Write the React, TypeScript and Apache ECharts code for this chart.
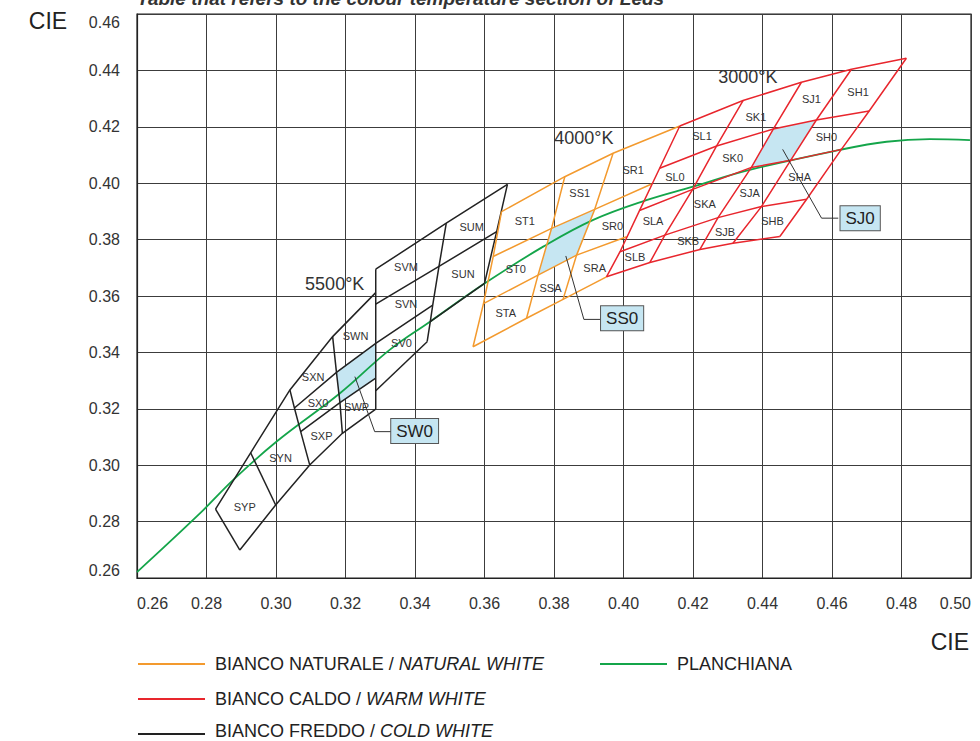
import React, { useEffect, useRef } from "react";
import * as echarts from "echarts";

// ---------- DATA (CIE x, y) ----------
const X_MIN = 0.26;
const X_MAX = 0.5;
const Y_MIN = 0.26;
const Y_MAX = 0.46;
const STEP = 0.02;

const TITLE = "Table that refers to the colour temperature section of Leds";

// Planckian locus
const planckian: number[][] = [
  [0.26, 0.2621], [0.2781, 0.2829], [0.2877, 0.2948], [0.3001, 0.3083],
  [0.3184, 0.3255], [0.3327, 0.3409], [0.3443, 0.3509], [0.3601, 0.3645],
  [0.3769, 0.3775], [0.3913, 0.387], [0.4066, 0.394], [0.42, 0.3988],
  [0.4363, 0.4047], [0.4622, 0.4118], [0.4757, 0.4147], [0.4881, 0.4156],
  [0.4997, 0.4153],
];

// BIANCO FREDDO / COLD WHITE bin boundaries
const coldLines: number[][][] = [
  [[0.2826, 0.2844], [0.2927, 0.3044], [0.304, 0.3267], [0.3163, 0.3456], [0.3287, 0.3612]],
  [[0.2896, 0.2699], [0.2999, 0.2859], [0.3097, 0.3001], [0.3191, 0.3113], [0.3287, 0.3199]],
  [[0.2826, 0.2844], [0.2896, 0.2699]],
  [[0.2927, 0.3044], [0.2999, 0.2859]],
  [[0.304, 0.3267], [0.3053, 0.3203], [0.3071, 0.3119], [0.3097, 0.3001]],
  [[0.3163, 0.3456], [0.3174, 0.3329], [0.3184, 0.3222], [0.3191, 0.3113]],
  [[0.3053, 0.3203], [0.3174, 0.3329], [0.3287, 0.3432], [0.3451, 0.3568]],
  [[0.3071, 0.3119], [0.3184, 0.3222], [0.3287, 0.3309]],
  [[0.3287, 0.3695], [0.3287, 0.3199]],
  [[0.3287, 0.3695], [0.349, 0.3858], [0.3666, 0.3996]],
  [[0.3287, 0.3571], [0.3469, 0.3705], [0.3635, 0.3828]],
  [[0.3287, 0.3264], [0.3435, 0.3438]],
  [[0.3444, 0.3509], [0.36, 0.3645]],
  [[0.349, 0.3858], [0.3469, 0.3705], [0.3451, 0.3568], [0.3444, 0.3509], [0.3435, 0.3438]],
  [[0.3666, 0.3996], [0.3635, 0.3828], [0.36, 0.3645]],
];

// BIANCO NATURALE / NATURAL WHITE bin boundaries
const naturalLines: number[][][] = [
  [[0.3649, 0.3899], [0.3831, 0.4023], [0.397, 0.4106], [0.4162, 0.4203]],
  [[0.3625, 0.374], [0.3793, 0.384], [0.3917, 0.3907], [0.4081, 0.3997]],
  [[0.3597, 0.3573], [0.3754, 0.3674], [0.3865, 0.3745], [0.4009, 0.381]],
  [[0.3567, 0.342], [0.3721, 0.3521], [0.3826, 0.3588], [0.3951, 0.3668]],
  [[0.3649, 0.3899], [0.3625, 0.374], [0.3597, 0.3573], [0.3567, 0.342]],
  [[0.3831, 0.4023], [0.3793, 0.384], [0.3754, 0.3674], [0.3721, 0.3521]],
  [[0.397, 0.4106], [0.3917, 0.3907], [0.3865, 0.3745], [0.3826, 0.3588]],
];

// BIANCO CALDO / WARM WHITE grid nodes (rows from top, columns from left)
const warmRows: number[][][] = [
  [[0.4162, 0.4203], [0.4344, 0.4293], [0.4512, 0.4358], [0.4656, 0.4404], [0.4814, 0.4443]],
  [[0.4104, 0.4053], [0.4268, 0.4132], [0.4431, 0.4192], [0.4555, 0.4224], [0.4707, 0.4256]],
  [[0.4046, 0.3903], [0.4199, 0.3978], [0.4368, 0.4056], [0.4481, 0.4081], [0.4627, 0.412]],
  [[0.399, 0.3757], [0.4119, 0.3816], [0.4272, 0.3878], [0.4397, 0.3917], [0.4527, 0.3943]],
  [[0.3951, 0.3668], [0.4076, 0.3719], [0.422, 0.3765], [0.4315, 0.3787], [0.445, 0.3811]],
];

// highlighted bins
const highlightNames = ["SW0", "SS0", "SJ0"];
const highlightCells: number[][][] = [
  [[0.3174, 0.3329], [0.3287, 0.3432], [0.3287, 0.3309], [0.3184, 0.3222]],
  [[0.3793, 0.384], [0.3917, 0.3907], [0.3865, 0.3745], [0.3754, 0.3674]],
  [[0.4431, 0.4192], [0.4555, 0.4224], [0.4481, 0.4081], [0.4368, 0.4056]],
];
const calloutLeaders: number[][][] = [
  [[0.3227, 0.3314], [0.3284, 0.3119], [0.3335, 0.3119]],
  [[0.3834, 0.3742], [0.3886, 0.3517], [0.3934, 0.3517]],
  [[0.4458, 0.412], [0.457, 0.3876], [0.4618, 0.3876]],
];
const calloutBoxes: number[][] = [
  [0.3399, 0.3121],
  [0.3996, 0.3521],
  [0.4681, 0.3876],
];

// bin names
const binNames = [
  "SYP", "SYN", "SXN", "SX0", "SXP", "SWN", "SWP", "SVM", "SVN", "SV0", "SUM", "SUN",
  "ST1", "ST0", "STA", "SS1", "SSA", "SR1", "SR0", "SRA",
  "SL1", "SL0", "SLA", "SLB", "SK1", "SK0", "SKA", "SKB", "SJ1", "SJA", "SJB",
  "SH1", "SH0", "SHA", "SHB",
];
const binLabelPos: number[][] = [
  [0.291, 0.2853], [0.3013, 0.3024], [0.3107, 0.3312], [0.3121, 0.322], [0.3131, 0.3104],
  [0.3229, 0.3459], [0.3232, 0.3205], [0.3374, 0.3704], [0.3374, 0.3572], [0.3361, 0.3434],
  [0.3563, 0.3846], [0.3538, 0.3678],
  [0.3716, 0.3867], [0.369, 0.3696], [0.3661, 0.3539], [0.3874, 0.3966], [0.379, 0.3627],
  [0.4028, 0.4047], [0.3968, 0.3848], [0.3917, 0.3698],
  [0.4226, 0.4167], [0.4148, 0.4021], [0.4085, 0.3867], [0.4033, 0.3737],
  [0.4381, 0.4236], [0.4314, 0.4088], [0.4234, 0.3926], [0.4186, 0.3796],
  [0.4541, 0.4298], [0.4363, 0.3964], [0.4292, 0.3826],
  [0.4675, 0.4325], [0.4584, 0.4163], [0.4507, 0.4023], [0.4429, 0.3867],
];

const tempNames = ["5500°K", "4000°K", "3000°K"];
const tempPos: number[][] = [
  [0.3169, 0.3643],
  [0.3886, 0.416],
  [0.4358, 0.4377],
];

const legendItems = [
  { plain: "BIANCO NATURALE / ", italic: "NATURAL WHITE", key: "natural" },
  { plain: "BIANCO CALDO / ", italic: "WARM WHITE", key: "warm" },
  { plain: "BIANCO FREDDO / ", italic: "COLD WHITE", key: "cold" },
  { plain: "PLANCHIANA", italic: "", key: "planck" },
];

// ---------- STYLE ----------
const ORANGE = "#f39a2e";
const RED = "#e8262d";
const BLACK = "#222222";
const GREEN = "#14a54a";
const BLUE_FILL = "#c6e6f2";
const FONT = "Arial, 'Liberation Sans', Helvetica, sans-serif";
const COLORS: Record<string, string> = { natural: ORANGE, warm: RED, cold: BLACK, planck: GREEN };
const CLEAR = "rgba(0,0,0,0)";

function warmLines(): number[][][] {
  const out: number[][][] = [];
  warmRows.forEach((r) => out.push(r));
  for (let c = 0; c < warmRows[0].length; c++) {
    out.push(warmRows.map((r) => r[c]));
  }
  return out;
}

export default function App() {
  const ref = useRef<HTMLDivElement>(null);

  useEffect(() => {
    if (!ref.current) return;
    const chart = echarts.init(ref.current, undefined, { renderer: "svg" });

    const linesSeries = (name: string, data: number[][][], color: string, width = 1.5) => ({
      name,
      type: "lines",
      coordinateSystem: "cartesian2d",
      polyline: true,
      silent: true,
      z: 4,
      lineStyle: { color, width, opacity: 1 },
      data: data.map((c) => ({ coords: c })),
    });

    const labelSeries = (name: string, names: string[], pos: number[][], label: any, z: number) => ({
      name,
      type: "scatter",
      symbol: "circle",
      symbolSize: 2,
      silent: true,
      z,
      itemStyle: { color: CLEAR },
      label: { show: true, position: "inside", formatter: "{b}", fontFamily: FONT, opacity: 1, ...label },
      data: names.map((n, i) => ({ name: n, value: pos[i] })),
    });

    const legendGraphics: any[] = [];
    const legendPos = [
      { x: 138, y: 664, ty: 664 },
      { x: 138, y: 699, ty: 699 },
      { x: 138, y: 734, ty: 731 },
      { x: 600, y: 664, ty: 664 },
    ];
    legendItems.forEach((it, i) => {
      const p = legendPos[i];
      legendGraphics.push({
        type: "line",
        shape: { x1: p.x, y1: p.y, x2: p.x + 67, y2: p.y },
        style: { stroke: COLORS[it.key], lineWidth: 1.8 },
      });
      legendGraphics.push({
        type: "text",
        x: p.x + 77,
        y: p.ty,
        style: {
          text: it.italic ? `{n|${it.plain}}{i|${it.italic}}` : `{n|${it.plain}}`,
          rich: {
            n: { fontSize: 18, fontFamily: FONT, fill: "#222", color: "#222" },
            i: { fontSize: 18, fontFamily: FONT, fontStyle: "italic", fill: "#222", color: "#222" },
          },
          verticalAlign: "middle",
        },
      });
    });

    const option: any = {
      animation: false,
      backgroundColor: "#ffffff",
      grid: {
        left: 137,
        right: 9,
        top: 14,
        bottom: 163,
        show: true,
        borderColor: "#222",
        borderWidth: 1.2,
        backgroundColor: "transparent",
      },
      xAxis: {
        type: "value",
        min: X_MIN,
        max: X_MAX,
        interval: STEP,
        axisLine: { show: true, lineStyle: { color: "#222", width: 1.2 } },
        axisTick: { show: false },
        splitLine: { show: true, lineStyle: { color: "#3c3c3c", width: 1 } },
        axisLabel: {
          formatter: (v: number) => v.toFixed(2),
          fontSize: 16,
          fontFamily: FONT,
          color: "#333",
          margin: 17,
          showMinLabel: true,
          showMaxLabel: true,
          alignMinLabel: "left",
          alignMaxLabel: "right",
        },
      },
      yAxis: {
        type: "value",
        min: Y_MIN,
        max: Y_MAX,
        interval: STEP,
        axisLine: { show: true, lineStyle: { color: "#222", width: 1.2 } },
        axisTick: { show: false },
        splitLine: { show: true, lineStyle: { color: "#3c3c3c", width: 1 } },
        axisLabel: {
          formatter: (v: number) => v.toFixed(2),
          fontSize: 16,
          fontFamily: FONT,
          color: "#333",
          margin: 17,
          showMinLabel: true,
          showMaxLabel: true,
          verticalAlignMinLabel: "bottom",
          verticalAlignMaxLabel: "top",
        },
      },
      graphic: [
        {
          type: "text",
          x: 137,
          y: -2,
          style: {
            text: TITLE,
            fontSize: 19,
            fontWeight: "bold",
            fontStyle: "italic",
            fontFamily: FONT,
            fill: "#333",
            verticalAlign: "middle",
          },
        },
        {
          type: "text",
          x: 48,
          y: 21,
          style: { text: "CIE", fontSize: 23, fontFamily: FONT, fill: "#222", align: "center", verticalAlign: "middle" },
        },
        {
          type: "text",
          x: 969,
          y: 642,
          style: { text: "CIE", fontSize: 23, fontFamily: FONT, fill: "#222", align: "right", verticalAlign: "middle" },
        },
        ...legendGraphics,
      ],
      series: [
        {
          name: "highlight",
          type: "custom",
          silent: true,
          z: 2,
          data: highlightCells.map((c, i) => ({ name: highlightNames[i], value: c[0] })),
          encode: { x: 0, y: 1 },
          renderItem: (params: any, api: any) => {
            const pts = highlightCells[params.dataIndex].map((p) => api.coord(p));
            return { type: "polygon", shape: { points: pts }, style: { fill: BLUE_FILL } };
          },
        },
        {
          name: "PLANCHIANA",
          type: "line",
          smooth: 0.4,
          symbol: "none",
          silent: true,
          z: 3,
          lineStyle: { color: GREEN, width: 1.8 },
          data: planckian,
        },
        linesSeries("BIANCO FREDDO / COLD WHITE", coldLines, BLACK),
        linesSeries("BIANCO NATURALE / NATURAL WHITE", naturalLines, ORANGE),
        linesSeries("BIANCO CALDO / WARM WHITE", warmLines(), RED),
        {
          name: "leaders",
          type: "lines",
          coordinateSystem: "cartesian2d",
          polyline: true,
          silent: true,
          z: 5,
          lineStyle: { color: "#333", width: 1, opacity: 1 },
          data: calloutLeaders.map((c) => ({ coords: c })),
        },
        labelSeries("bins", binNames, binLabelPos, { fontSize: 11, color: "#333" }, 6),
        labelSeries("temps", tempNames, tempPos, { fontSize: 18, color: "#333" }, 6),
        labelSeries(
          "callouts",
          highlightNames,
          calloutBoxes,
          {
            fontSize: 17,
            color: "#222",
            backgroundColor: BLUE_FILL,
            borderColor: "#555",
            borderWidth: 1,
            padding: [4, 5, 3, 5],
          },
          7
        ),
      ],
    };

    chart.setOption(option);
    return () => chart.dispose();
  }, []);

  return (
    <div
      ref={ref}
      style={{ position: "absolute", left: 0, top: 0, width: 980, height: 741, background: "#fff" }}
    />
  );
}
